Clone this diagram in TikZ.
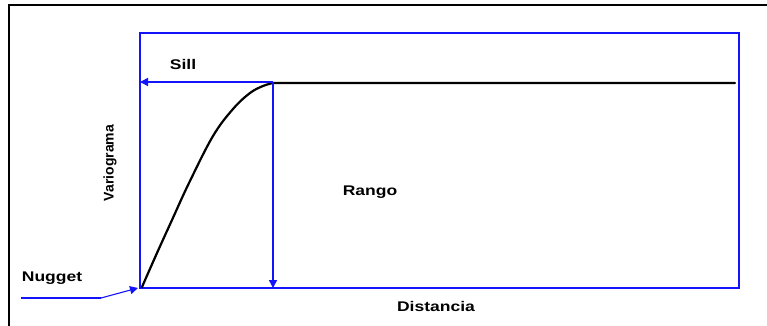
\documentclass[tikz,border=0pt]{standalone}
\usepackage{fontspec}
\setmainfont{Liberation Sans}
\usetikzlibrary{arrows.meta}
\definecolor{lblue}{RGB}{20,20,250}
\begin{document}
\begin{tikzpicture}[x=1pt,y=-1pt,
  lbl/.style={font=\bfseries\fontsize{14}{16}\selectfont, inner sep=0pt, transform shape, xscale=1.25},
  bl/.style={draw=lblue, line width=1.5pt},
  arr/.style={bl, -{Triangle[length=8pt,width=8pt]}},
  curve/.style={draw=black, line width=2.2pt, line cap=round, line join=round}]
\useasboundingbox (0,0) rectangle (767,326);
\fill[white] (0,0) rectangle (767,326);
% outer frame (top and left)
\draw[black, line width=2.2pt] (9,326) -- (9,5) -- (767,5);
% blue box
\coordinate (bl) at (140,288);
\coordinate (tr) at (739,33);
\draw[bl] (bl) rectangle (tr);
\coordinate (peak) at (273,82);
\coordinate (sillend) at (140,82);
\coordinate (rangoend) at (273,288);
\coordinate (plateauend) at (735,83);
% variogram curve
\draw[curve] plot[smooth, tension=0.6] coordinates {(142,287) (157,253) (172,220) (189,183) (213,136) (233,109) (250,93) (263,86) (273,83)} -- (plateauend);
% arrows
\draw[arr] (peak) -- (sillend);
\draw[arr] (peak) -- (rangoend);
% nugget pointer
\coordinate (n0) at (21,298);
\coordinate (n1) at (101,298);
\coordinate (n2) at (138,288);
\draw[bl, line width=1.1pt] (n0) -- (n1);
\draw[arr, line width=1.1pt] (n1) -- (n2);
% labels
\node[lbl] (sill) at (183,64) {Sill};
\node[lbl] (nugget) at (52,278) {Nugget};
\node[lbl] (rango) at (370,192) {Rango};
\node[lbl] (dist) at (436,306) {Distancia};
\node[font=\bfseries\fontsize{14}{16}\selectfont, inner sep=0pt, rotate=90] (vario) at (110,163) {Variograma};
\end{tikzpicture}
\end{document}
